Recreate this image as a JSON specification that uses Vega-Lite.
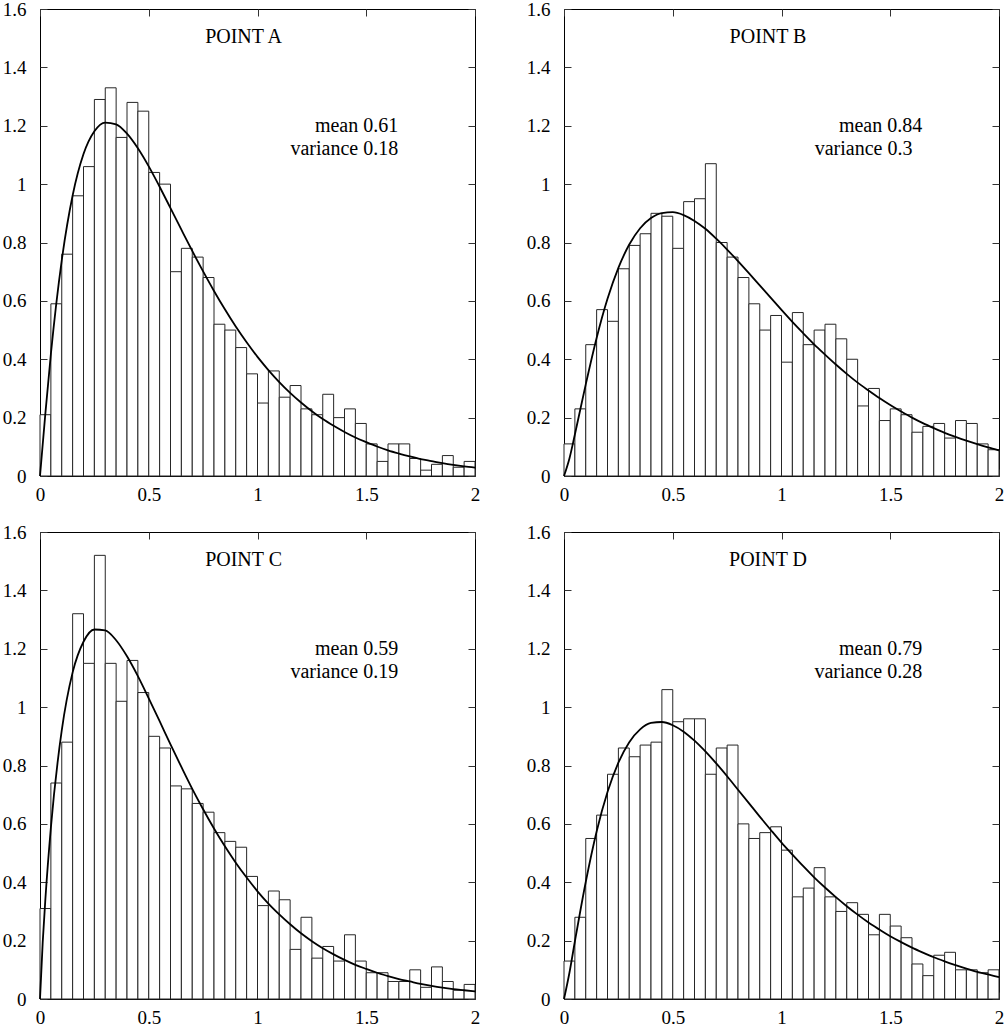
{
  "$schema": "https://vega.github.io/schema/vega-lite/v6.json",
  "padding": {"left": 1, "top": -1, "right": 0, "bottom": 0},
  "config": {
    "view": {"stroke": "#000000", "strokeWidth": 1},
    "axis": {"domain": false, "grid": false, "tickSize": -7, "tickColor": "#333333", "tickWidth": 1, "labelFont": "Liberation Serif, Times New Roman, DejaVu Serif, serif", "labelFontSize": 19, "labelColor": "#000000"},
    "text": {"font": "Liberation Serif, Times New Roman, DejaVu Serif, serif", "fontSize": 20, "color": "#000000"}
  },
  "datasets": {
    "bins": [
      {"panel":"A","lo":0,"hi":0.05,"density":0.21},{"panel":"A","lo":0.05,"hi":0.1,"density":0.59},{"panel":"A","lo":0.1,"hi":0.15,"density":0.76},{"panel":"A","lo":0.15,"hi":0.2,"density":0.96},{"panel":"A","lo":0.2,"hi":0.25,"density":1.06},{"panel":"A","lo":0.25,"hi":0.3,"density":1.29},{"panel":"A","lo":0.3,"hi":0.35,"density":1.33},{"panel":"A","lo":0.35,"hi":0.4,"density":1.16},{"panel":"A","lo":0.4,"hi":0.45,"density":1.28},{"panel":"A","lo":0.45,"hi":0.5,"density":1.25},
      {"panel":"A","lo":0.5,"hi":0.55,"density":1.04},{"panel":"A","lo":0.55,"hi":0.6,"density":1.0},{"panel":"A","lo":0.6,"hi":0.65,"density":0.7},{"panel":"A","lo":0.65,"hi":0.7,"density":0.78},{"panel":"A","lo":0.7,"hi":0.75,"density":0.75},{"panel":"A","lo":0.75,"hi":0.8,"density":0.68},{"panel":"A","lo":0.8,"hi":0.85,"density":0.52},{"panel":"A","lo":0.85,"hi":0.9,"density":0.5},{"panel":"A","lo":0.9,"hi":0.95,"density":0.44},{"panel":"A","lo":0.95,"hi":1,"density":0.35},
      {"panel":"A","lo":1,"hi":1.05,"density":0.25},{"panel":"A","lo":1.05,"hi":1.1,"density":0.36},{"panel":"A","lo":1.1,"hi":1.15,"density":0.27},{"panel":"A","lo":1.15,"hi":1.2,"density":0.31},{"panel":"A","lo":1.2,"hi":1.25,"density":0.23},{"panel":"A","lo":1.25,"hi":1.3,"density":0.21},{"panel":"A","lo":1.3,"hi":1.35,"density":0.28},{"panel":"A","lo":1.35,"hi":1.4,"density":0.2},{"panel":"A","lo":1.4,"hi":1.45,"density":0.23},{"panel":"A","lo":1.45,"hi":1.5,"density":0.18},
      {"panel":"A","lo":1.5,"hi":1.55,"density":0.11},{"panel":"A","lo":1.55,"hi":1.6,"density":0.05},{"panel":"A","lo":1.6,"hi":1.65,"density":0.11},{"panel":"A","lo":1.65,"hi":1.7,"density":0.11},{"panel":"A","lo":1.7,"hi":1.75,"density":0.06},{"panel":"A","lo":1.75,"hi":1.8,"density":0.02},{"panel":"A","lo":1.8,"hi":1.85,"density":0.04},{"panel":"A","lo":1.85,"hi":1.9,"density":0.07},{"panel":"A","lo":1.9,"hi":1.95,"density":0.03},{"panel":"A","lo":1.95,"hi":2,"density":0.05},

      {"panel":"B","lo":0,"hi":0.05,"density":0.11},{"panel":"B","lo":0.05,"hi":0.1,"density":0.23},{"panel":"B","lo":0.1,"hi":0.15,"density":0.45},{"panel":"B","lo":0.15,"hi":0.2,"density":0.57},{"panel":"B","lo":0.2,"hi":0.25,"density":0.53},{"panel":"B","lo":0.25,"hi":0.3,"density":0.71},{"panel":"B","lo":0.3,"hi":0.35,"density":0.79},{"panel":"B","lo":0.35,"hi":0.4,"density":0.83},{"panel":"B","lo":0.4,"hi":0.45,"density":0.9},{"panel":"B","lo":0.45,"hi":0.5,"density":0.89},
      {"panel":"B","lo":0.5,"hi":0.55,"density":0.78},{"panel":"B","lo":0.55,"hi":0.6,"density":0.94},{"panel":"B","lo":0.6,"hi":0.65,"density":0.95},{"panel":"B","lo":0.65,"hi":0.7,"density":1.07},{"panel":"B","lo":0.7,"hi":0.75,"density":0.8},{"panel":"B","lo":0.75,"hi":0.8,"density":0.75},{"panel":"B","lo":0.8,"hi":0.85,"density":0.68},{"panel":"B","lo":0.85,"hi":0.9,"density":0.59},{"panel":"B","lo":0.9,"hi":0.95,"density":0.5},{"panel":"B","lo":0.95,"hi":1,"density":0.55},
      {"panel":"B","lo":1,"hi":1.05,"density":0.39},{"panel":"B","lo":1.05,"hi":1.1,"density":0.56},{"panel":"B","lo":1.1,"hi":1.15,"density":0.45},{"panel":"B","lo":1.15,"hi":1.2,"density":0.5},{"panel":"B","lo":1.2,"hi":1.25,"density":0.52},{"panel":"B","lo":1.25,"hi":1.3,"density":0.47},{"panel":"B","lo":1.3,"hi":1.35,"density":0.4},{"panel":"B","lo":1.35,"hi":1.4,"density":0.24},{"panel":"B","lo":1.4,"hi":1.45,"density":0.3},{"panel":"B","lo":1.45,"hi":1.5,"density":0.19},
      {"panel":"B","lo":1.5,"hi":1.55,"density":0.23},{"panel":"B","lo":1.55,"hi":1.6,"density":0.21},{"panel":"B","lo":1.6,"hi":1.65,"density":0.15},{"panel":"B","lo":1.65,"hi":1.7,"density":0.17},{"panel":"B","lo":1.7,"hi":1.75,"density":0.18},{"panel":"B","lo":1.75,"hi":1.8,"density":0.13},{"panel":"B","lo":1.8,"hi":1.85,"density":0.19},{"panel":"B","lo":1.85,"hi":1.9,"density":0.18},{"panel":"B","lo":1.9,"hi":1.95,"density":0.11},{"panel":"B","lo":1.95,"hi":2,"density":0.09},

      {"panel":"C","lo":0,"hi":0.05,"density":0.31},{"panel":"C","lo":0.05,"hi":0.1,"density":0.74},{"panel":"C","lo":0.1,"hi":0.15,"density":0.88},{"panel":"C","lo":0.15,"hi":0.2,"density":1.32},{"panel":"C","lo":0.2,"hi":0.25,"density":1.15},{"panel":"C","lo":0.25,"hi":0.3,"density":1.52},{"panel":"C","lo":0.3,"hi":0.35,"density":1.15},{"panel":"C","lo":0.35,"hi":0.4,"density":1.02},{"panel":"C","lo":0.4,"hi":0.45,"density":1.16},{"panel":"C","lo":0.45,"hi":0.5,"density":1.05},
      {"panel":"C","lo":0.5,"hi":0.55,"density":0.9},{"panel":"C","lo":0.55,"hi":0.6,"density":0.86},{"panel":"C","lo":0.6,"hi":0.65,"density":0.73},{"panel":"C","lo":0.65,"hi":0.7,"density":0.72},{"panel":"C","lo":0.7,"hi":0.75,"density":0.67},{"panel":"C","lo":0.75,"hi":0.8,"density":0.64},{"panel":"C","lo":0.8,"hi":0.85,"density":0.57},{"panel":"C","lo":0.85,"hi":0.9,"density":0.54},{"panel":"C","lo":0.9,"hi":0.95,"density":0.52},{"panel":"C","lo":0.95,"hi":1,"density":0.42},
      {"panel":"C","lo":1,"hi":1.05,"density":0.32},{"panel":"C","lo":1.05,"hi":1.1,"density":0.37},{"panel":"C","lo":1.1,"hi":1.15,"density":0.34},{"panel":"C","lo":1.15,"hi":1.2,"density":0.17},{"panel":"C","lo":1.2,"hi":1.25,"density":0.28},{"panel":"C","lo":1.25,"hi":1.3,"density":0.14},{"panel":"C","lo":1.3,"hi":1.35,"density":0.18},{"panel":"C","lo":1.35,"hi":1.4,"density":0.13},{"panel":"C","lo":1.4,"hi":1.45,"density":0.22},{"panel":"C","lo":1.45,"hi":1.5,"density":0.13},
      {"panel":"C","lo":1.5,"hi":1.55,"density":0.09},{"panel":"C","lo":1.55,"hi":1.6,"density":0.09},{"panel":"C","lo":1.6,"hi":1.65,"density":0.06},{"panel":"C","lo":1.65,"hi":1.7,"density":0.06},{"panel":"C","lo":1.7,"hi":1.75,"density":0.1},{"panel":"C","lo":1.75,"hi":1.8,"density":0.04},{"panel":"C","lo":1.8,"hi":1.85,"density":0.11},{"panel":"C","lo":1.85,"hi":1.9,"density":0.06},{"panel":"C","lo":1.9,"hi":1.95,"density":0.03},{"panel":"C","lo":1.95,"hi":2,"density":0.05},

      {"panel":"D","lo":0,"hi":0.05,"density":0.13},{"panel":"D","lo":0.05,"hi":0.1,"density":0.28},{"panel":"D","lo":0.1,"hi":0.15,"density":0.55},{"panel":"D","lo":0.15,"hi":0.2,"density":0.63},{"panel":"D","lo":0.2,"hi":0.25,"density":0.77},{"panel":"D","lo":0.25,"hi":0.3,"density":0.86},{"panel":"D","lo":0.3,"hi":0.35,"density":0.83},{"panel":"D","lo":0.35,"hi":0.4,"density":0.87},{"panel":"D","lo":0.4,"hi":0.45,"density":0.88},{"panel":"D","lo":0.45,"hi":0.5,"density":1.06},
      {"panel":"D","lo":0.5,"hi":0.55,"density":0.95},{"panel":"D","lo":0.55,"hi":0.6,"density":0.96},{"panel":"D","lo":0.6,"hi":0.65,"density":0.96},{"panel":"D","lo":0.65,"hi":0.7,"density":0.77},{"panel":"D","lo":0.7,"hi":0.75,"density":0.86},{"panel":"D","lo":0.75,"hi":0.8,"density":0.87},{"panel":"D","lo":0.8,"hi":0.85,"density":0.6},{"panel":"D","lo":0.85,"hi":0.9,"density":0.55},{"panel":"D","lo":0.9,"hi":0.95,"density":0.57},{"panel":"D","lo":0.95,"hi":1,"density":0.59},
      {"panel":"D","lo":1,"hi":1.05,"density":0.51},{"panel":"D","lo":1.05,"hi":1.1,"density":0.35},{"panel":"D","lo":1.1,"hi":1.15,"density":0.38},{"panel":"D","lo":1.15,"hi":1.2,"density":0.45},{"panel":"D","lo":1.2,"hi":1.25,"density":0.35},{"panel":"D","lo":1.25,"hi":1.3,"density":0.3},{"panel":"D","lo":1.3,"hi":1.35,"density":0.33},{"panel":"D","lo":1.35,"hi":1.4,"density":0.29},{"panel":"D","lo":1.4,"hi":1.45,"density":0.22},{"panel":"D","lo":1.45,"hi":1.5,"density":0.29},
      {"panel":"D","lo":1.5,"hi":1.55,"density":0.25},{"panel":"D","lo":1.55,"hi":1.6,"density":0.21},{"panel":"D","lo":1.6,"hi":1.65,"density":0.12},{"panel":"D","lo":1.65,"hi":1.7,"density":0.08},{"panel":"D","lo":1.7,"hi":1.75,"density":0.15},{"panel":"D","lo":1.75,"hi":1.8,"density":0.16},{"panel":"D","lo":1.8,"hi":1.85,"density":0.1},{"panel":"D","lo":1.85,"hi":1.9,"density":0.1},{"panel":"D","lo":1.9,"hi":1.95,"density":0.09},{"panel":"D","lo":1.95,"hi":2,"density":0.1}
    ],
    "fit": [
      {"panel":"A","x":0,"density":0},{"panel":"A","x":0.025,"density":0.217},{"panel":"A","x":0.05,"density":0.418},{"panel":"A","x":0.1,"density":0.739},{"panel":"A","x":0.15,"density":0.961},{"panel":"A","x":0.2,"density":1.103},{"panel":"A","x":0.25,"density":1.181},{"panel":"A","x":0.3,"density":1.211},{"panel":"A","x":0.35,"density":1.205},{"panel":"A","x":0.4,"density":1.173},{"panel":"A","x":0.45,"density":1.123},{"panel":"A","x":0.5,"density":1.061},{"panel":"A","x":0.55,"density":0.991},{"panel":"A","x":0.6,"density":0.918},{"panel":"A","x":0.65,"density":0.844},{"panel":"A","x":0.7,"density":0.771},{"panel":"A","x":0.75,"density":0.701},{"panel":"A","x":0.8,"density":0.634},{"panel":"A","x":0.85,"density":0.571},{"panel":"A","x":0.9,"density":0.512},{"panel":"A","x":0.95,"density":0.458},{"panel":"A","x":1,"density":0.408},{"panel":"A","x":1.05,"density":0.363},{"panel":"A","x":1.1,"density":0.322},{"panel":"A","x":1.15,"density":0.285},{"panel":"A","x":1.2,"density":0.252},{"panel":"A","x":1.25,"density":0.222},{"panel":"A","x":1.3,"density":0.195},{"panel":"A","x":1.35,"density":0.172},{"panel":"A","x":1.4,"density":0.151},{"panel":"A","x":1.45,"density":0.132},{"panel":"A","x":1.5,"density":0.116},{"panel":"A","x":1.55,"density":0.101},{"panel":"A","x":1.6,"density":0.088},{"panel":"A","x":1.65,"density":0.077},{"panel":"A","x":1.7,"density":0.067},{"panel":"A","x":1.75,"density":0.058},{"panel":"A","x":1.8,"density":0.051},{"panel":"A","x":1.85,"density":0.044},{"panel":"A","x":1.9,"density":0.038},{"panel":"A","x":1.95,"density":0.033},{"panel":"A","x":2,"density":0.029},
      {"panel":"B","x":0,"density":0},{"panel":"B","x":0.025,"density":0.06},{"panel":"B","x":0.05,"density":0.142},{"panel":"B","x":0.1,"density":0.314},{"panel":"B","x":0.15,"density":0.473},{"panel":"B","x":0.2,"density":0.607},{"panel":"B","x":0.25,"density":0.713},{"panel":"B","x":0.3,"density":0.793},{"panel":"B","x":0.35,"density":0.849},{"panel":"B","x":0.4,"density":0.884},{"panel":"B","x":0.45,"density":0.901},{"panel":"B","x":0.5,"density":0.904},{"panel":"B","x":0.55,"density":0.894},{"panel":"B","x":0.6,"density":0.874},{"panel":"B","x":0.65,"density":0.847},{"panel":"B","x":0.7,"density":0.813},{"panel":"B","x":0.75,"density":0.776},{"panel":"B","x":0.8,"density":0.736},{"panel":"B","x":0.85,"density":0.695},{"panel":"B","x":0.9,"density":0.653},{"panel":"B","x":0.95,"density":0.611},{"panel":"B","x":1,"density":0.569},{"panel":"B","x":1.05,"density":0.528},{"panel":"B","x":1.1,"density":0.489},{"panel":"B","x":1.15,"density":0.451},{"panel":"B","x":1.2,"density":0.416},{"panel":"B","x":1.25,"density":0.382},{"panel":"B","x":1.3,"density":0.35},{"panel":"B","x":1.35,"density":0.32},{"panel":"B","x":1.4,"density":0.293},{"panel":"B","x":1.45,"density":0.267},{"panel":"B","x":1.5,"density":0.243},{"panel":"B","x":1.55,"density":0.221},{"panel":"B","x":1.6,"density":0.2},{"panel":"B","x":1.65,"density":0.181},{"panel":"B","x":1.7,"density":0.164},{"panel":"B","x":1.75,"density":0.148},{"panel":"B","x":1.8,"density":0.134},{"panel":"B","x":1.85,"density":0.121},{"panel":"B","x":1.9,"density":0.109},{"panel":"B","x":1.95,"density":0.098},{"panel":"B","x":2,"density":0.088},
      {"panel":"C","x":0,"density":0},{"panel":"C","x":0.0125,"density":0.195},{"panel":"C","x":0.025,"density":0.345},{"panel":"C","x":0.05,"density":0.587},{"panel":"C","x":0.1,"density":0.92},{"panel":"C","x":0.15,"density":1.119},{"panel":"C","x":0.2,"density":1.224},{"panel":"C","x":0.25,"density":1.266},{"panel":"C","x":0.3,"density":1.263},{"panel":"C","x":0.35,"density":1.229},{"panel":"C","x":0.4,"density":1.174},{"panel":"C","x":0.45,"density":1.106},{"panel":"C","x":0.5,"density":1.03},{"panel":"C","x":0.55,"density":0.952},{"panel":"C","x":0.6,"density":0.872},{"panel":"C","x":0.65,"density":0.795},{"panel":"C","x":0.7,"density":0.72},{"panel":"C","x":0.75,"density":0.65},{"panel":"C","x":0.8,"density":0.584},{"panel":"C","x":0.85,"density":0.523},{"panel":"C","x":0.9,"density":0.467},{"panel":"C","x":0.95,"density":0.416},{"panel":"C","x":1,"density":0.369},{"panel":"C","x":1.05,"density":0.327},{"panel":"C","x":1.1,"density":0.29},{"panel":"C","x":1.15,"density":0.256},{"panel":"C","x":1.2,"density":0.225},{"panel":"C","x":1.25,"density":0.198},{"panel":"C","x":1.3,"density":0.174},{"panel":"C","x":1.35,"density":0.153},{"panel":"C","x":1.4,"density":0.134},{"panel":"C","x":1.45,"density":0.117},{"panel":"C","x":1.5,"density":0.103},{"panel":"C","x":1.55,"density":0.09},{"panel":"C","x":1.6,"density":0.078},{"panel":"C","x":1.65,"density":0.068},{"panel":"C","x":1.7,"density":0.06},{"panel":"C","x":1.75,"density":0.052},{"panel":"C","x":1.8,"density":0.045},{"panel":"C","x":1.85,"density":0.039},{"panel":"C","x":1.9,"density":0.034},{"panel":"C","x":1.95,"density":0.03},{"panel":"C","x":2,"density":0.026},
      {"panel":"D","x":0,"density":0},{"panel":"D","x":0.025,"density":0.09},{"panel":"D","x":0.05,"density":0.197},{"panel":"D","x":0.1,"density":0.401},{"panel":"D","x":0.15,"density":0.574},{"panel":"D","x":0.2,"density":0.709},{"panel":"D","x":0.25,"density":0.81},{"panel":"D","x":0.3,"density":0.88},{"panel":"D","x":0.35,"density":0.924},{"panel":"D","x":0.4,"density":0.946},{"panel":"D","x":0.45,"density":0.949},{"panel":"D","x":0.5,"density":0.938},{"panel":"D","x":0.55,"density":0.916},{"panel":"D","x":0.6,"density":0.885},{"panel":"D","x":0.65,"density":0.848},{"panel":"D","x":0.7,"density":0.807},{"panel":"D","x":0.75,"density":0.763},{"panel":"D","x":0.8,"density":0.717},{"panel":"D","x":0.85,"density":0.671},{"panel":"D","x":0.9,"density":0.625},{"panel":"D","x":0.95,"density":0.58},{"panel":"D","x":1,"density":0.536},{"panel":"D","x":1.05,"density":0.495},{"panel":"D","x":1.1,"density":0.455},{"panel":"D","x":1.15,"density":0.417},{"panel":"D","x":1.2,"density":0.382},{"panel":"D","x":1.25,"density":0.349},{"panel":"D","x":1.3,"density":0.318},{"panel":"D","x":1.35,"density":0.289},{"panel":"D","x":1.4,"density":0.262},{"panel":"D","x":1.45,"density":0.238},{"panel":"D","x":1.5,"density":0.215},{"panel":"D","x":1.55,"density":0.195},{"panel":"D","x":1.6,"density":0.176},{"panel":"D","x":1.65,"density":0.159},{"panel":"D","x":1.7,"density":0.143},{"panel":"D","x":1.75,"density":0.129},{"panel":"D","x":1.8,"density":0.116},{"panel":"D","x":1.85,"density":0.104},{"panel":"D","x":1.9,"density":0.093},{"panel":"D","x":1.95,"density":0.084},{"panel":"D","x":2,"density":0.075}
    ]
  },
  "spacing": 17,
  "vconcat": [
    {
      "spacing": 44,
      "hconcat": [
        {
          "width": 435, "height": 467,
          "layer": [
            {"data": {"name": "bins"}, "transform": [{"filter": "datum.panel === 'A'"}],
             "mark": {"type": "rect", "fill": "#ffffff", "stroke": "#262626", "strokeWidth": 1},
             "encoding": {
               "x": {"field": "lo", "type": "quantitative", "scale": {"domain": [0, 2], "nice": false, "zero": false}, "axis": {"orient": "bottom", "title": null, "values": [0, 0.5, 1, 1.5, 2], "format": "~g", "labelFlush": false, "labelOverlap": false, "labelPadding": 16}},
               "x2": {"field": "hi"},
               "y": {"field": "density", "type": "quantitative", "scale": {"domain": [0, 1.6], "nice": false}, "axis": {"orient": "left", "title": null, "values": [0, 0.2, 0.4, 0.6, 0.8, 1, 1.2, 1.4, 1.6], "format": "~g", "labelOverlap": false, "labelPadding": 21}}
             }},
            {"data": {"name": "fit"}, "transform": [{"filter": "datum.panel === 'A'"}],
             "mark": {"type": "line", "stroke": "#000000", "strokeWidth": 1.8, "interpolate": "monotone"},
             "encoding": {
               "x": {"field": "x", "type": "quantitative", "axis": {"orient": "top", "title": null, "labels": false, "values": [0, 0.5, 1, 1.5, 2]}},
               "y": {"field": "density", "type": "quantitative", "axis": {"orient": "right", "title": null, "labels": false, "values": [0, 0.2, 0.4, 0.6, 0.8, 1, 1.2, 1.4, 1.6]}}
             }},
            {"data": {"values": [{}]}, "mark": {"type": "text", "align": "center", "baseline": "alphabetic"},
             "encoding": {"x": {"datum": 0.936, "type": "quantitative", "axis": null}, "y": {"datum": 1.482, "type": "quantitative", "axis": null}, "text": {"value": "POINT A"}}},
            {"data": {"values": [{}]}, "mark": {"type": "text", "align": "right", "baseline": "alphabetic"},
             "encoding": {"x": {"datum": 1.647, "type": "quantitative", "axis": null}, "y": {"datum": 1.18, "type": "quantitative", "axis": null}, "text": {"value": "mean 0.61"}}},
            {"data": {"values": [{}]}, "mark": {"type": "text", "align": "right", "baseline": "alphabetic"},
             "encoding": {"x": {"datum": 1.647, "type": "quantitative", "axis": null}, "y": {"datum": 1.1, "type": "quantitative", "axis": null}, "text": {"value": "variance 0.18"}}}
          ],
          "resolve": {"axis": {"x": "independent", "y": "independent"}}
        },
        {
          "width": 435, "height": 467,
          "layer": [
            {"data": {"name": "bins"}, "transform": [{"filter": "datum.panel === 'B'"}],
             "mark": {"type": "rect", "fill": "#ffffff", "stroke": "#262626", "strokeWidth": 1},
             "encoding": {
               "x": {"field": "lo", "type": "quantitative", "scale": {"domain": [0, 2], "nice": false, "zero": false}, "axis": {"orient": "bottom", "title": null, "values": [0, 0.5, 1, 1.5, 2], "format": "~g", "labelFlush": false, "labelOverlap": false, "labelPadding": 16}},
               "x2": {"field": "hi"},
               "y": {"field": "density", "type": "quantitative", "scale": {"domain": [0, 1.6], "nice": false}, "axis": {"orient": "left", "title": null, "values": [0, 0.2, 0.4, 0.6, 0.8, 1, 1.2, 1.4, 1.6], "format": "~g", "labelOverlap": false, "labelPadding": 21}}
             }},
            {"data": {"name": "fit"}, "transform": [{"filter": "datum.panel === 'B'"}],
             "mark": {"type": "line", "stroke": "#000000", "strokeWidth": 1.8, "interpolate": "monotone"},
             "encoding": {
               "x": {"field": "x", "type": "quantitative", "axis": {"orient": "top", "title": null, "labels": false, "values": [0, 0.5, 1, 1.5, 2]}},
               "y": {"field": "density", "type": "quantitative", "axis": {"orient": "right", "title": null, "labels": false, "values": [0, 0.2, 0.4, 0.6, 0.8, 1, 1.2, 1.4, 1.6]}}
             }},
            {"data": {"values": [{}]}, "mark": {"type": "text", "align": "center", "baseline": "alphabetic"},
             "encoding": {"x": {"datum": 0.938, "type": "quantitative", "axis": null}, "y": {"datum": 1.482, "type": "quantitative", "axis": null}, "text": {"value": "POINT B"}}},
            {"data": {"values": [{}]}, "mark": {"type": "text", "align": "right", "baseline": "alphabetic"},
             "encoding": {"x": {"datum": 1.647, "type": "quantitative", "axis": null}, "y": {"datum": 1.18, "type": "quantitative", "axis": null}, "text": {"value": "mean 0.84"}}},
            {"data": {"values": [{}]}, "mark": {"type": "text", "align": "right", "baseline": "alphabetic"},
             "encoding": {"x": {"datum": 1.602, "type": "quantitative", "axis": null}, "y": {"datum": 1.1, "type": "quantitative", "axis": null}, "text": {"value": "variance 0.3"}}}
          ],
          "resolve": {"axis": {"x": "independent", "y": "independent"}}
        }
      ]
    },
    {
      "spacing": 44,
      "hconcat": [
        {
          "width": 435, "height": 467,
          "layer": [
            {"data": {"name": "bins"}, "transform": [{"filter": "datum.panel === 'C'"}],
             "mark": {"type": "rect", "fill": "#ffffff", "stroke": "#262626", "strokeWidth": 1},
             "encoding": {
               "x": {"field": "lo", "type": "quantitative", "scale": {"domain": [0, 2], "nice": false, "zero": false}, "axis": {"orient": "bottom", "title": null, "values": [0, 0.5, 1, 1.5, 2], "format": "~g", "labelFlush": false, "labelOverlap": false, "labelPadding": 16}},
               "x2": {"field": "hi"},
               "y": {"field": "density", "type": "quantitative", "scale": {"domain": [0, 1.6], "nice": false}, "axis": {"orient": "left", "title": null, "values": [0, 0.2, 0.4, 0.6, 0.8, 1, 1.2, 1.4, 1.6], "format": "~g", "labelOverlap": false, "labelPadding": 21}}
             }},
            {"data": {"name": "fit"}, "transform": [{"filter": "datum.panel === 'C'"}],
             "mark": {"type": "line", "stroke": "#000000", "strokeWidth": 1.8, "interpolate": "monotone"},
             "encoding": {
               "x": {"field": "x", "type": "quantitative", "axis": {"orient": "top", "title": null, "labels": false, "values": [0, 0.5, 1, 1.5, 2]}},
               "y": {"field": "density", "type": "quantitative", "axis": {"orient": "right", "title": null, "labels": false, "values": [0, 0.2, 0.4, 0.6, 0.8, 1, 1.2, 1.4, 1.6]}}
             }},
            {"data": {"values": [{}]}, "mark": {"type": "text", "align": "center", "baseline": "alphabetic"},
             "encoding": {"x": {"datum": 0.936, "type": "quantitative", "axis": null}, "y": {"datum": 1.482, "type": "quantitative", "axis": null}, "text": {"value": "POINT C"}}},
            {"data": {"values": [{}]}, "mark": {"type": "text", "align": "right", "baseline": "alphabetic"},
             "encoding": {"x": {"datum": 1.647, "type": "quantitative", "axis": null}, "y": {"datum": 1.18, "type": "quantitative", "axis": null}, "text": {"value": "mean 0.59"}}},
            {"data": {"values": [{}]}, "mark": {"type": "text", "align": "right", "baseline": "alphabetic"},
             "encoding": {"x": {"datum": 1.647, "type": "quantitative", "axis": null}, "y": {"datum": 1.1, "type": "quantitative", "axis": null}, "text": {"value": "variance 0.19"}}}
          ],
          "resolve": {"axis": {"x": "independent", "y": "independent"}}
        },
        {
          "width": 435, "height": 467,
          "layer": [
            {"data": {"name": "bins"}, "transform": [{"filter": "datum.panel === 'D'"}],
             "mark": {"type": "rect", "fill": "#ffffff", "stroke": "#262626", "strokeWidth": 1},
             "encoding": {
               "x": {"field": "lo", "type": "quantitative", "scale": {"domain": [0, 2], "nice": false, "zero": false}, "axis": {"orient": "bottom", "title": null, "values": [0, 0.5, 1, 1.5, 2], "format": "~g", "labelFlush": false, "labelOverlap": false, "labelPadding": 16}},
               "x2": {"field": "hi"},
               "y": {"field": "density", "type": "quantitative", "scale": {"domain": [0, 1.6], "nice": false}, "axis": {"orient": "left", "title": null, "values": [0, 0.2, 0.4, 0.6, 0.8, 1, 1.2, 1.4, 1.6], "format": "~g", "labelOverlap": false, "labelPadding": 21}}
             }},
            {"data": {"name": "fit"}, "transform": [{"filter": "datum.panel === 'D'"}],
             "mark": {"type": "line", "stroke": "#000000", "strokeWidth": 1.8, "interpolate": "monotone"},
             "encoding": {
               "x": {"field": "x", "type": "quantitative", "axis": {"orient": "top", "title": null, "labels": false, "values": [0, 0.5, 1, 1.5, 2]}},
               "y": {"field": "density", "type": "quantitative", "axis": {"orient": "right", "title": null, "labels": false, "values": [0, 0.2, 0.4, 0.6, 0.8, 1, 1.2, 1.4, 1.6]}}
             }},
            {"data": {"values": [{}]}, "mark": {"type": "text", "align": "center", "baseline": "alphabetic"},
             "encoding": {"x": {"datum": 0.938, "type": "quantitative", "axis": null}, "y": {"datum": 1.482, "type": "quantitative", "axis": null}, "text": {"value": "POINT D"}}},
            {"data": {"values": [{}]}, "mark": {"type": "text", "align": "right", "baseline": "alphabetic"},
             "encoding": {"x": {"datum": 1.647, "type": "quantitative", "axis": null}, "y": {"datum": 1.18, "type": "quantitative", "axis": null}, "text": {"value": "mean 0.79"}}},
            {"data": {"values": [{}]}, "mark": {"type": "text", "align": "right", "baseline": "alphabetic"},
             "encoding": {"x": {"datum": 1.647, "type": "quantitative", "axis": null}, "y": {"datum": 1.1, "type": "quantitative", "axis": null}, "text": {"value": "variance 0.28"}}}
          ],
          "resolve": {"axis": {"x": "independent", "y": "independent"}}
        }
      ]
    }
  ]
}
